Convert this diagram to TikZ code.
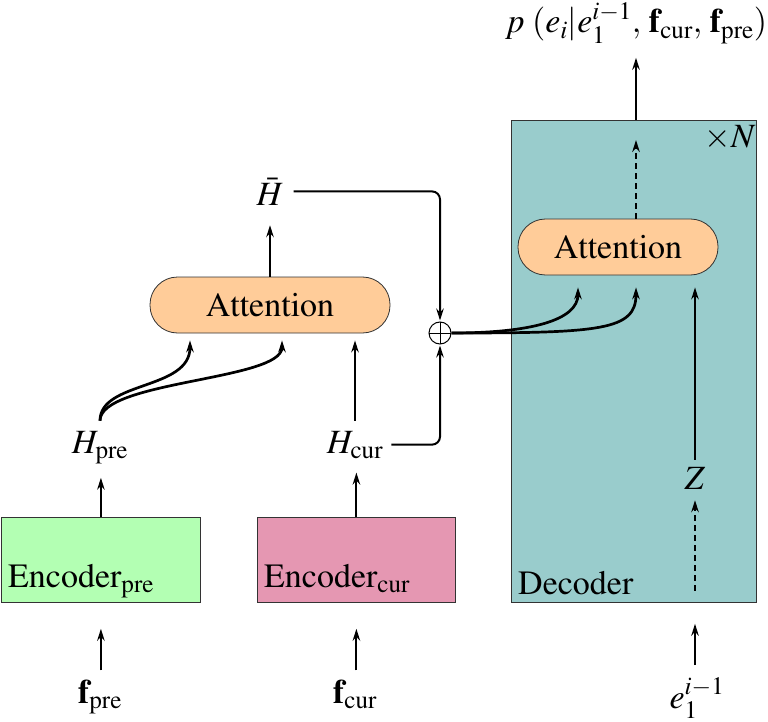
\documentclass[tikz,border=0pt]{standalone}
\usepackage[T1]{fontenc}
\usepackage{mathptmx}
\usetikzlibrary{arrows.meta,calc}
\definecolor{encpreC}{RGB}{179,255,179}
\definecolor{enccurC}{RGB}{229,151,178}
\definecolor{decC}{RGB}{153,204,204}
\definecolor{attC}{RGB}{255,204,153}
\begin{document}
\begin{tikzpicture}[x=1pt,y=-1pt,
  font=\fontsize{34}{40}\selectfont,
  arr/.style={draw, line width=2pt, -{Stealth[length=12pt,width=7.5pt,inset=4pt]}},
  crv/.style={arr, line width=2.7pt},
  dsh/.style={arr, dash pattern=on 6pt off 4pt},
  lbl/.style={inner sep=0pt, anchor=base},
  boxs/.style={draw=black!80, line width=0.8pt, anchor=north west, inner sep=0pt},
  att/.style={draw=black!80, line width=0.8pt, fill=attC, rounded corners=27.5pt, inner sep=0pt}]
\useasboundingbox (0,0) rectangle (768,722);
% boxes
\node[boxs, fill=encpreC, minimum width=199pt, minimum height=85pt] (encpre) at (1,517) {};
\node[boxs, fill=enccurC, minimum width=198pt, minimum height=85pt] (enccur) at (257,517) {};
\node[boxs, fill=decC, minimum width=245pt, minimum height=482pt] (dec) at (511,120) {};
\node[att, minimum width=240pt, minimum height=56pt] (attL) at (270,305) {Attention};
\node[att, minimum width=200pt, minimum height=56pt] (attR) at (618,247) {Attention};
% labels
\node[lbl, anchor=base west] (encpreT) at (8,587) {Encoder\textsubscript{pre}};
\node[lbl, anchor=base west] (enccurT) at (264,587) {Encoder\textsubscript{cur}};
\node[lbl, anchor=base west] (decT) at (518,594) {Decoder};
\node[lbl] (hpre) at (100,453) {$H_{\mathrm{pre}}$};
\node[lbl] (hcur) at (355,453) {$H_{\mathrm{cur}}$};
\node[lbl] (hbar) at (270,205) {$\bar{H}$};
\node[lbl] (fpre) at (100,703) {$\mathbf{f}_{\mathrm{pre}}$};
\node[lbl] (fcur) at (355,703) {$\mathbf{f}_{\mathrm{cur}}$};
\node[lbl] (e1) at (697,708) {$e_1^{i-1}$};
\node[lbl] (zlab) at (695,489) {$Z$};
\node[lbl] (plab) at (636,33) {$p\;(e_i|e_1^{i-1},\,\mathbf{f}_{\mathrm{cur}},\,\mathbf{f}_{\mathrm{pre}})$};
\node[lbl] (timesN) at (730,148) {$\times N$};
\node[draw, circle, line width=1pt, minimum size=22pt, inner sep=0pt,
  path picture={\draw[line width=1pt] (path picture bounding box.north) -- (path picture bounding box.south) (path picture bounding box.west) -- (path picture bounding box.east);}] (oplus) at (440,333) {};
% connectors
\draw[arr, shorten <=9pt, shorten >=26pt] (fpre.north -| encpre.south) -- (encpre.south);
\draw[arr, shorten <=9pt, shorten >=26pt] (fcur.north -| enccur.south) -- (enccur.south);
\draw[arr, shorten <=12pt, shorten >=21pt] (e1.north -| zlab) -- (dec.south -| zlab);
\draw[arr, shorten >=14pt] (encpre.north) -- (hpre.south -| encpre.north);
\draw[arr, shorten >=14pt] (enccur.north) -- (hcur.south -| enccur.north);
\draw[crv] ([yshift=10pt]hpre.north) .. controls +(0,-40) and +(0,50) .. ([xshift=-80pt,yshift=-7pt]attL.south);
\draw[crv] ([yshift=10pt]hpre.north) .. controls +(0,-40) and +(0,40) .. ([xshift=12pt,yshift=-7pt]attL.south);
\draw[arr, shorten <=10pt, shorten >=7pt] (hcur.north) -- (attL.south -| hcur.north);
\draw[arr, shorten >=20pt] (attL.north) -- (hbar.south);
\draw[arr, rounded corners=8pt, shorten <=10pt, shorten >=1pt] (hbar.east) -| (oplus.north);
\draw[arr, rounded corners=8pt, shorten <=8pt, shorten >=1pt] (hcur.east) -| (oplus.south);
\draw[crv] (oplus.east) .. controls +(79,0) and +(0,33) .. ([xshift=-40pt,yshift=-12pt]attR.south);
\draw[crv] (oplus.east) .. controls +(149,0) and +(0,43) .. ([xshift=18pt,yshift=-12pt]attR.south);
\draw[arr, shorten <=7pt, shorten >=12pt] (zlab.north) -- (attR.south -| zlab);
\draw[dsh, shorten <=12pt, shorten >=11pt] (dec.south -| zlab) -- (zlab.south);
\draw[dsh, shorten >=20pt] (attR.north -| plab) -- (dec.north -| plab);
\draw[arr, shorten >=14pt] (dec.north -| plab) -- (plab.south);
\end{tikzpicture}
\end{document}
